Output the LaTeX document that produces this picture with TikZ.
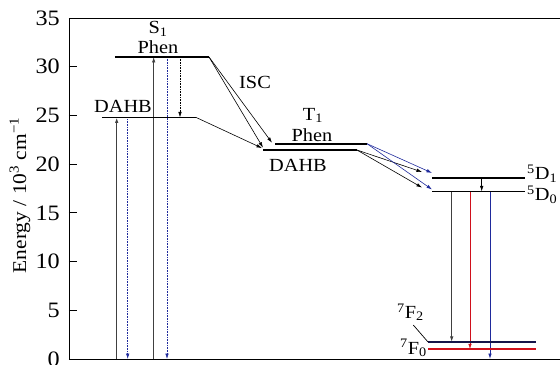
\documentclass[tikz,border=0pt]{standalone}
\usepackage{fontspec}
\setmainfont{Liberation Serif}[FakeStretch=1.1]
\usetikzlibrary{arrows.meta,calc}

\definecolor{emisblue}{HTML}{1F2A9C}
\definecolor{deepnavy}{HTML}{14144A}
\definecolor{emisred}{HTML}{D0101C}
\definecolor{absgray}{HTML}{404040}

\tikzset{
  level/.style={line width=1.7pt},
  lbl/.style={font=\fontsize{18.5}{21}\selectfont, inner sep=0pt},
  ticklbl/.style={font=\fontsize{22}{25}\selectfont, anchor=east, inner sep=0pt},
  trans/.style={->, line width=0.6pt},
  emis/.style={->, line width=0.6pt, emisblue, densely dotted},
}

\begin{document}
\begin{tikzpicture}[x=1pt, y=9.743pt, >={Latex[length=5.5pt,width=3.5pt]}]
  \useasboundingbox (-69,-0.513) rectangle (491,36.85);
  % axis frame
  \draw[line width=0.8pt] (491,35) -- (0,35) -- (0,0) -- (491,0);
  \foreach \e in {0,5,...,35} {
    \draw[line width=0.8pt] (0,\e) -- (8,\e);
    \node[ticklbl] (t\e) at (-9,\e) {\e};
  }
  \node[lbl, rotate=90, font=\fontsize{19.5}{22}\selectfont] (ylab) at (-49,16.8)
    {Energy / 10\textsuperscript{3} cm\textsuperscript{−1}};

  % level ends
  \coordinate (s1l) at (46,31);     \coordinate (s1r) at (140,31);
  \coordinate (sdl) at (33,24.8);   \coordinate (sdr) at (127,24.8);
  \coordinate (tpl) at (206,22.1);  \coordinate (tpr) at (298,22.1);
  \coordinate (tdl) at (194,21.45); \coordinate (tdr) at (288,21.45);
  \coordinate (d1l) at (363,18.55); \coordinate (d1r) at (456,18.55);
  \coordinate (d0l) at (363,17.2);  \coordinate (d0r) at (456,17.2);
  \coordinate (f2l) at (359,1.75);  \coordinate (f2r) at (467,1.75);
  \coordinate (f0l) at (359,1.0);   \coordinate (f0r) at (467,1.0);

  % absorption and emission
  \coordinate (absd) at (47.7,0);  \coordinate (emd) at (58.7,0);
  \coordinate (absp) at (84.7,0);  \coordinate (emp) at (98,0);
  \draw[->, line width=1.1pt, absgray] (absd) -- (absd |- sdl);
  \draw[emis] (emd |- sdl) -- (emd);
  \draw[->, line width=0.6pt, absgray] (absp) -- (absp |- s1l);
  \draw[emis] (emp |- s1l) -- (emp);
  \coordinate (ett) at (111,0);
  \draw[->, line width=0.6pt, densely dotted] (ett |- s1l) -- (ett |- sdl);

  % energy transfer
  \draw[trans] (s1r) -- ($(tpl)+(-3,0.1)$);
  \draw[trans] (s1r) -- ($(tdl)+(0,0.25)$);
  \draw[trans] (sdr) -- ($(tdl)+(-1,0.2)$);
  \draw[trans] (tdr) -- ($(d1l)+(-10,0.65)$);
  \draw[trans] (tdr) -- ($(d0l)+(-10,0.4)$);
  \draw[trans, emisblue] (tpr) -- ($(d1l)+(0,0.55)$);
  \draw[trans, emisblue] (tpr) -- ($(d0l)+(0,0.2)$);

  % Eu transitions
  \coordinate (eud) at (412.7,0);
  \draw[trans] (eud |- d1l) -- (eud |- d0l);
  \coordinate (euf2) at (382.7,0); \coordinate (euf0) at (401,0); \coordinate (eub) at (421,0);
  \draw[->, line width=1pt, absgray] (euf2 |- d0l) -- (euf2 |- f2l);
  \draw[->, line width=0.8pt, emisred] (euf0 |- d0l) -- (euf0 |- f0l);
  \draw[->, line width=0.8pt, emisblue] (eub |- d0l) -- (eub);

  % levels
  \draw[level] (s1l) -- (s1r);
  \draw[level] (sdl) -- (sdr);
  \draw[level] (tpl) -- (tpr);
  \draw[level] (tdl) -- (tdr);
  \draw[level] (d1l) -- (d1r);
  \draw[level] (d0l) -- (d0r);
  \draw[level, deepnavy] (f2l) -- (f2r);
  \draw[level, emisred] (f0l) -- (f0r);
  \coordinate (f2lead) at (344.3,3.49);
  \draw[line width=0.7pt] (f2lead) -- (f2l);

  % labels
  \node[lbl] (s1lab) at (89,33.9) {S\textsubscript{1}};
  \node[lbl] (s1phen) at (89,32.0) {Phen};
  \node[lbl] (sdlab) at (54,25.9) {DAHB};
  \node[lbl] (isc) at (186,28.4) {ISC};
  \node[lbl] (t1lab) at (244,25.0) {T\textsubscript{1}};
  \node[lbl] (t1phen) at (243,23.0) {Phen};
  \node[lbl] (tdlab) at (229,19.9) {DAHB};
  \node[lbl, anchor=west] (d1lab) at (458,19.0) {\textsuperscript{5}D\textsubscript{1}};
  \node[lbl, anchor=west] (d0lab) at (458,16.85) {\textsuperscript{5}D\textsubscript{0}};
  \node[lbl] (f2lab) at (341.5,4.8) {\textsuperscript{7}F\textsubscript{2}};
  \node[lbl] (f0lab) at (344.5,1.13) {\textsuperscript{7}F\textsubscript{0}};
\end{tikzpicture}
\end{document}
